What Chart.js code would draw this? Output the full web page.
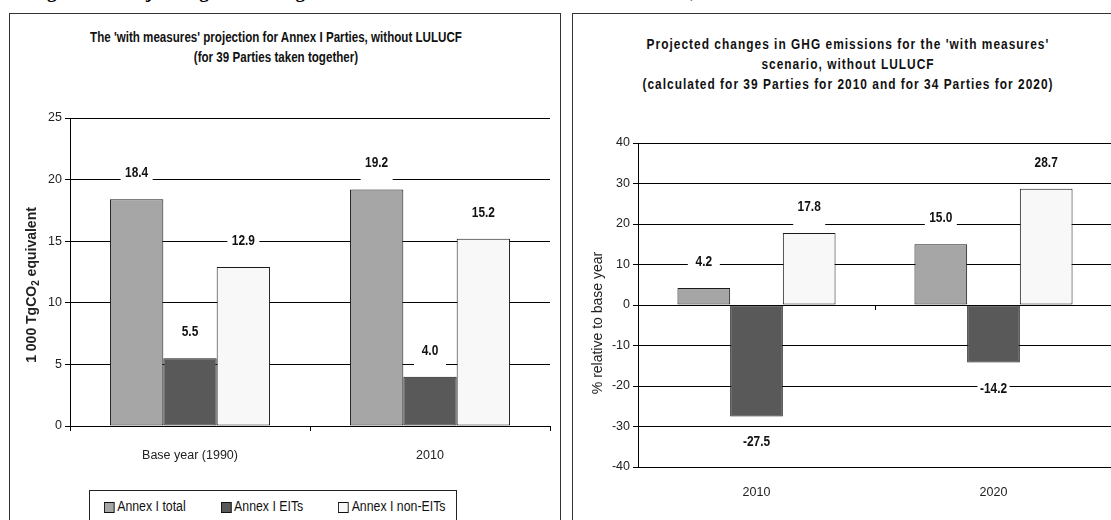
<!DOCTYPE html>
<html>
<head>
<meta charset="utf-8">
<script src="https://cdn.jsdelivr.net/npm/chart.js@4.4.1/dist/chart.umd.min.js"></script>
<style>
body { margin:0; width:1111px; height:520px; overflow:hidden; background:#fff; position:relative; font-family:'Liberation Sans', Arial, sans-serif; }
.head { position:absolute; left:30px; top:-18px; font:bold 19px/19px 'Liberation Serif', serif; white-space:nowrap; color:#000; }
.panel { position:absolute; top:13px; height:540px; border:1px solid #333; box-sizing:border-box; }
#p1 { left:9px; width:552px; }
#p2 { left:572px; width:562px; }
.title { position:absolute; font:bold 14.5px/20px 'Liberation Sans', Arial, sans-serif; text-align:center; color:#111; white-space:nowrap; transform:scaleX(0.8); transform-origin:center; }
#t2 { font-size:14px; letter-spacing:1.2px; transform:scaleX(0.85); }
canvas { position:absolute; }
#legend { position:absolute; left:89px; top:490px; width:368px; height:40px; border:1px solid #222; box-sizing:border-box; }
#legend .inner { position:absolute; left:14px; top:7px; display:flex; align-items:center; transform:scaleX(0.88); transform-origin:left; font:14px 'Liberation Sans', Arial, sans-serif; color:#111; white-space:nowrap; }
#legend .item { display:flex; align-items:center; margin-right:40px; }
#legend .sw { width:10px; height:9px; border:1px solid #111; margin-right:3px; margin-top:3px; }
</style>
</head>
<body>
<div class="head">Figure 2.&nbsp;&nbsp; Projected greenhouse gas emissions under the 'with measures' scenario, 1990&ndash;2020</div>
<div class="panel" id="p1"></div>
<div class="panel" id="p2"></div>
<div class="title" id="t1" style="left:0px; width:552px; top:27px;">The 'with measures' projection for Annex I Parties, without LULUCF<br>(for 39 Parties taken together)</div>
<div class="title" id="t2" style="left:567px; width:562px; top:34px;">Projected changes in GHG emissions for the 'with measures'<br>scenario, without LULUCF<br>(calculated for 39 Parties for 2010 and for 34 Parties for 2020)</div>
<canvas id="c1" width="550" height="370" style="left:10px; top:100px;"></canvas>
<canvas id="c2" width="550" height="392" style="left:572px; top:120px;"></canvas>
<div id="legend"><div class="inner"></div></div>
<script>
// series shared by both charts
const seriesNames = ['Annex I total', 'Annex I EITs', 'Annex I non-EITs'];
const seriesColors = ['#a6a6a6', '#595959', '#f8f8f8'];

// left chart: 1 000 TgCO2 equivalent
const leftCategories = ['Base year (1990)', '2010'];
const leftTotal = [18.4, 19.2];
const leftEITs = [5.5, 4.0];
const leftNonEITs = [12.9, 15.2];

// right chart: % relative to base year
const rightCategories = ['2010', '2020'];
const rightTotal = [4.2, 15.0];
const rightEITs = [-27.5, -14.2];
const rightNonEITs = [17.8, 28.7];

const plain = "'Liberation Sans', Arial, sans-serif";

// value labels sitting on a white box above (or below) each bar
const barLabels = {
    id: 'barLabels',
    afterDatasetsDraw(chart) {
        const ctx = chart.ctx;
        chart.data.datasets.forEach((ds, i) => {
            chart.getDatasetMeta(i).data.forEach((bar, j) => {
                let v = ds.data[j];
                let y = v >= 0 ? bar.y - 26 : bar.y + 26;
                ctx.save();
                ctx.fillStyle = '#fff';
                ctx.fillRect(bar.x - 16, y - 10, 32, 30);
                ctx.translate(bar.x, y);
                ctx.scale(0.82, 1);   // narrow look
                ctx.font = 'bold 14.5px ' + plain;
                ctx.textAlign = 'center';
                ctx.textBaseline = 'middle';
                ctx.fillStyle = '#111';
                ctx.fillText(v.toFixed(1), 0, 0);
                ctx.restore();
            });
        });
    }
};

// rotated axis title, pieces may be subscript
const sideTitle = {
    id: 'sideTitle',
    afterDraw(chart, args, opts) {
        const ctx = chart.ctx;
        const fnt = p => (opts.bold ? 'bold ' : '') + (p.sub ? '10px ' : opts.size + 'px ') + opts.family;
        ctx.save();
        ctx.translate(opts.x, opts.y);
        ctx.rotate(-Math.PI / 2);
        ctx.fillStyle = '#222';
        ctx.textBaseline = 'middle';
        let total = 0;
        opts.parts.forEach(p => {
            ctx.font = fnt(p);
            total += ctx.measureText(p.text).width;
        });
        let x = -total / 2;
        opts.parts.forEach(p => {
            ctx.font = fnt(p);
            ctx.fillText(p.text, x, p.sub ? 4 : 0);
            x += ctx.measureText(p.text).width;
        });
        ctx.restore();
    }
};

// small tick on the zero line between the two categories
const zeroTick = {
    id: 'zeroTick',
    afterDraw(chart) {
        const xs = chart.scales.x, ys = chart.scales.y;
        const x = Math.round((xs.getPixelForValue(0) + xs.getPixelForValue(1)) / 2) + 0.5;
        const y0 = ys.getPixelForValue(0);
        const ctx = chart.ctx;
        ctx.save();
        ctx.strokeStyle = '#000';
        ctx.lineWidth = 1;
        ctx.beginPath();
        ctx.moveTo(x, y0);
        ctx.lineTo(x, y0 + 5);
        ctx.stroke();
        ctx.restore();
    }
};

function makeDatasets(a, b, c) {
    return [a, b, c].map((d, i) => ({
        label: seriesNames[i],
        data: d,
        backgroundColor: seriesColors[i],
        borderColor: '#1a1a1a',
        borderWidth: 1,
        borderSkipped: false,
        categoryPercentage: 0.667,
        barPercentage: 1
    }));
}

function makeChart(id, labels, datasets, cfg) {
    return new Chart(document.getElementById(id), {
        type: 'bar',
        data: { labels: labels, datasets: datasets },
        options: {
            responsive: false,
            animation: false,
            devicePixelRatio: 1,
            layout: { padding: { left: 0, right: 10, top: cfg.top, bottom: 0 } },
            plugins: {
                legend: { display: false },
                tooltip: { enabled: false },
                sideTitle: cfg.title
            },
            scales: {
                x: {
                    grid: { display: cfg.xTicks, offset: true, drawOnChartArea: false, drawTicks: true, tickLength: 5, color: '#000' },
                    border: { display: true, color: '#000', width: 1 },
                    ticks: { color: '#222', font: { family: plain, size: 12.5 }, padding: cfg.xPad, maxRotation: 0 },
                    afterFit: s => { s.height = cfg.xHeight; }
                },
                y: {
                    min: cfg.min,
                    max: cfg.max,
                    ticks: { stepSize: cfg.step, color: '#222', font: { family: plain, size: 12.5 }, padding: 3 },
                    grid: { color: '#000', lineWidth: 1, tickLength: 5 },
                    border: { display: true, color: '#000', width: 1 },
                    afterFit: s => { s.width = cfg.yWidth; }
                }
            }
        },
        plugins: cfg.plugins
    });
}

makeChart('c1', leftCategories, makeDatasets(leftTotal, leftEITs, leftNonEITs), {
    top: 18, min: 0, max: 25, step: 5, yWidth: 60, xHeight: 44, xPad: 17, xTicks: true,
    title: { x: 22, y: 185, size: 14, bold: true, family: plain,
        parts: [{ text: '1 000 TgCO' }, { text: '2', sub: true }, { text: ' equivalent' }] },
    plugins: [barLabels, sideTitle]
});

makeChart('c2', rightCategories, makeDatasets(rightTotal, rightEITs, rightNonEITs), {
    top: 23, min: -40, max: 40, step: 10, yWidth: 66, xHeight: 45, xPad: 13, xTicks: false,
    title: { x: 26, y: 203, size: 14, bold: false, family: plain,
        parts: [{ text: '% relative to base year' }] },
    plugins: [barLabels, sideTitle, zeroTick]
});

// legend built from the series arrays
const legend = document.querySelector('#legend .inner');
seriesNames.forEach((name, i) => {
    let item = document.createElement('div');
    item.className = 'item';
    item.innerHTML = '<span class="sw" style="background:' + seriesColors[i] + '"></span>' + name;
    legend.appendChild(item);
});
</script>
</body>
</html>
